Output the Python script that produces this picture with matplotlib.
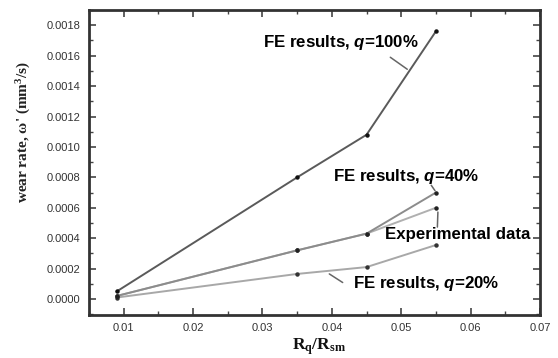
import matplotlib
matplotlib.use("Agg")
import matplotlib.pyplot as plt
from matplotlib.ticker import MultipleLocator, FormatStrFormatter

# ---- data ----
x_ratio = [0.009, 0.035, 0.045, 0.055]
fe_q100 = [0.00005, 0.00080, 0.00108, 0.00176]
fe_q40 = [0.00002, 0.00032, 0.00043, 0.00070]
experimental = [0.00002, 0.00032, 0.00043, 0.00060]
fe_q20 = [0.00001, 0.000165, 0.00021, 0.000355]

x_ticks = [0.01, 0.02, 0.03, 0.04, 0.05, 0.06, 0.07]
y_ticks = [0.0000, 0.0002, 0.0004, 0.0006, 0.0008, 0.0010, 0.0012, 0.0014, 0.0016, 0.0018]

plt.rcParams['mathtext.fontset'] = 'custom'
plt.rcParams['mathtext.rm'] = 'Liberation Serif:bold'
plt.rcParams['mathtext.it'] = 'Liberation Sans:italic:bold'
plt.rcParams['mathtext.bf'] = 'Liberation Serif:bold'
plt.rcParams['mathtext.default'] = 'rm'

fig = plt.figure(figsize=(5.58, 3.58), dpi=100)
ax = fig.add_axes([0.1595, 0.1201, 0.8082, 0.8519])

ax.plot(x_ratio, fe_q20, color='#a8a8a8', lw=1.4, marker='o', ms=2.2, mfc='#333333', mec='#333333', zorder=2)
ax.plot(x_ratio, experimental, color='#b0b0b0', lw=1.4, marker='o', ms=2.2, mfc='#222222', mec='#222222', zorder=2)
ax.plot(x_ratio, fe_q40, color='#8c8c8c', lw=1.4, marker='o', ms=2.2, mfc='#222222', mec='#222222', zorder=3)
ax.plot(x_ratio, fe_q100, color='#5a5a5a', lw=1.4, marker='o', ms=2.2, mfc='#111111', mec='#111111', zorder=4)

ax.set_xlim(0.005, 0.07)
ax.set_ylim(-0.000105, 0.0019)
ax.set_xticks(x_ticks)
ax.set_yticks(y_ticks)
ax.xaxis.set_minor_locator(MultipleLocator(0.005))
ax.yaxis.set_minor_locator(MultipleLocator(0.0001))
ax.xaxis.set_major_formatter(FormatStrFormatter('%.2f'))
ax.yaxis.set_major_formatter(FormatStrFormatter('%.4f'))

ax.tick_params(which='both', direction='in', top=True, right=True, color='#444444')
ax.tick_params(which='major', length=5, width=1.2, labelsize=8, labelcolor='#333333', pad=6)
ax.tick_params(which='minor', length=3, width=1.0)
for lab in ax.get_xticklabels() + ax.get_yticklabels():
    lab.set_fontfamily('Liberation Sans')
for sp in ax.spines.values():
    sp.set_linewidth(2.0)
    sp.set_color('#333333')

ax.set_ylabel("wear rate, ω' (mm$^3$/s)", family='Liberation Serif', fontweight='bold',
              fontsize=11, color='#222222')
ax.yaxis.set_label_coords(-0.125, 0.60)
ax.set_xlabel(r'$\mathrm{R}_\mathrm{q}/\mathrm{R}_\mathrm{sm}$', fontsize=12.5, color='#111111')
ax.xaxis.set_label_coords(0.51, -0.07)

tkw = dict(fontsize=12.2, fontweight='bold', family='Liberation Sans', va='center', ha='left', zorder=6)
lkw = dict(arrowprops=dict(arrowstyle='-', color='#666666', lw=1.1))

ax.text(0.0301, 0.001684, 'FE results, $\\mathit{q}$=100%', **tkw)
ax.annotate('', xy=(0.0512, 0.00150), xytext=(0.0481, 0.00160), **lkw)

ax.text(0.0401, 0.000803, 'FE results, $\\mathit{q}$=40%', **tkw)
ax.annotate('', xy=(0.0551, 0.000697), xytext=(0.0541, 0.000763), **lkw)

ax.text(0.0476, 0.000421, 'Experimental data', **tkw)
ax.annotate('', xy=(0.0553, 0.00059), xytext=(0.0552, 0.000455), **lkw)

ax.text(0.0430, 0.000105, 'FE results, $\\mathit{q}$=20%', **tkw)
ax.annotate('', xy=(0.0393, 0.000175), xytext=(0.0419, 0.0000987), **lkw)

fig.savefig('out.png', dpi=100)
